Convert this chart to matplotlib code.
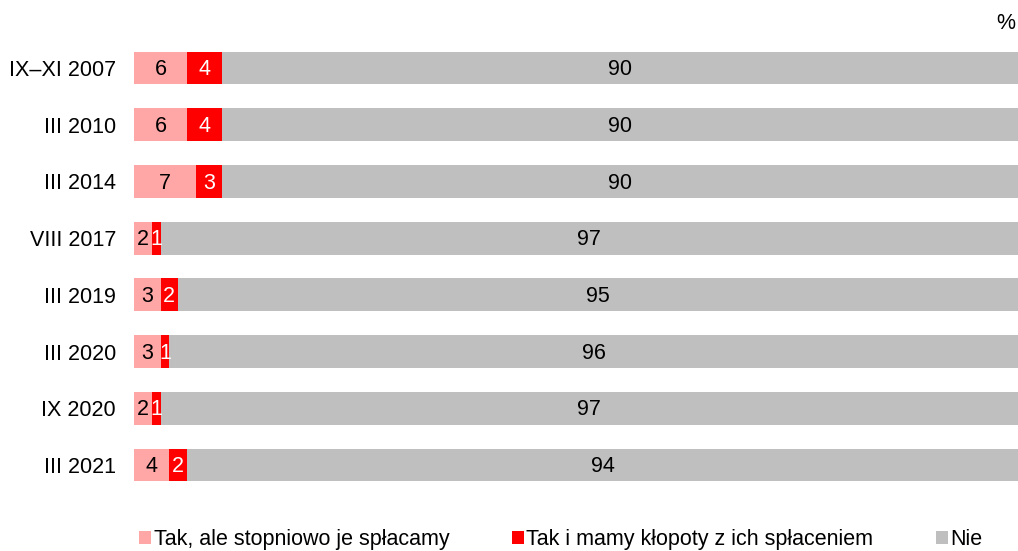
import matplotlib
matplotlib.use("Agg")
import matplotlib.pyplot as plt
import numpy as np

plt.rcParams['font.family'] = ['Liberation Sans', 'DejaVu Sans']

categories = ["IX–XI 2007", "III 2010", "III 2014", "VIII 2017", "III 2019", "III 2020", "IX 2020", "III 2021"]
tak_splacamy = [6, 6, 7, 2, 3, 3, 2, 4]
tak_klopoty = [4, 4, 3, 1, 2, 1, 1, 2]
nie = [90, 90, 90, 97, 95, 96, 97, 94]
series_names = ["Tak, ale stopniowo je spłacamy", "Tak i mamy kłopoty z ich spłaceniem", "Nie"]
colors = ["#FFA6A6", "#FF0000", "#BFBFBF"]
text_colors = ["black", "white", "black"]

fig = plt.figure(figsize=(10.18, 5.51), dpi=100)
ax = fig.add_axes([134/1018, 0.1046, 1 - 134/1018, 0.928 - 0.1046])

y = np.arange(len(categories))
left = np.zeros(len(categories))
fs = 15.5
for vals, name, c, tc in zip([tak_splacamy, tak_klopoty, nie], series_names, colors, text_colors):
    vals = np.array(vals, dtype=float)
    ax.barh(y, vals, left=left, height=0.58, color=c, label=name, linewidth=0)
    for yi, l, v in zip(y, left, vals):
        ax.text(l + v / 2, yi + 0.03, f"{int(v)}", ha="center", va="center", color=tc, fontsize=fs)
    left += vals

ax.set_xlim(0, 100)
ax.set_ylim(len(categories) - 0.5, -0.5)
ax.set_yticks(y)
ax.set_yticklabels(categories, fontsize=fs)
ax.tick_params(axis="y", length=0, pad=13)
ax.set_xticks([])
for s in ax.spines.values():
    s.set_visible(False)

fig.text(0.9875, 0.958, "%", ha="center", va="center", fontsize=fs)

leg = fig.legend(loc="center", bbox_to_anchor=(0.551, 0.02), ncol=3, frameon=False,
                 fontsize=fs, handlelength=0.55, handleheight=0.55, handletextpad=0.12,
                 columnspacing=2.9, borderpad=0, borderaxespad=0)

fig.savefig("out.png", dpi=100)
